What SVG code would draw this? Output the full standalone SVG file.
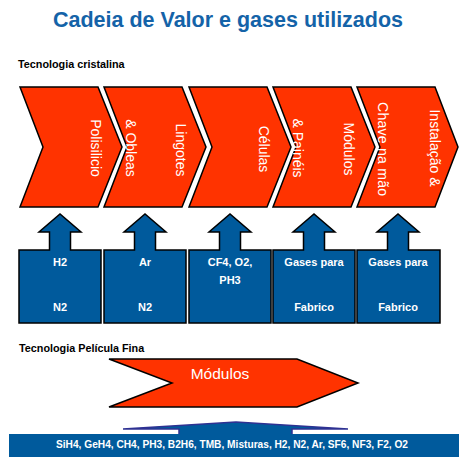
<svg xmlns="http://www.w3.org/2000/svg" width="459" height="457" viewBox="0 0 459 457">
<style>
.chev{fill:#FF3300;stroke:#000;stroke-width:1.5;stroke-linejoin:miter}
.ct{font-family:"Liberation Sans",Arial,sans-serif;font-size:14px;fill:#fff;text-anchor:middle;dominant-baseline:central}
.gas{fill:#005A9C;stroke:#000;stroke-width:1.5}
.gt{font-family:"Liberation Sans",Arial,sans-serif;font-size:11px;font-weight:bold;fill:#fff;text-anchor:middle;dominant-baseline:central}
.sec{font-family:"Liberation Sans",Arial,sans-serif;font-size:10.8px;font-weight:bold;fill:#000}
</style>
<rect width="459" height="457" fill="#fff"/>
<text x="228" y="27" font-family="Liberation Sans,Arial,sans-serif" font-size="21.5" font-weight="bold" fill="#1463A8" text-anchor="middle">Cadeia de Valor e gases utilizados</text>
<text class="sec" x="18" y="68">Tecnologia cristalina</text>

<g id="c1"><path class="chev" d="M20,87 H98 L122,147 L98,207 H20 L43,147 Z"/>
<text class="ct" transform="translate(96,148) rotate(90)">Polisilicio</text></g>
<g id="c2"><path class="chev" d="M104,87 H182 L206,147 L182,207 H104 L127,147 Z"/>
<text class="ct" transform="translate(181,150) rotate(90)">Lingotes</text>
<text class="ct" transform="translate(131,148) rotate(90)">&amp; Obleas</text></g>
<g id="c3"><path class="chev" d="M189,87 H267 L291,147 L267,207 H189 L212,147 Z"/>
<text class="ct" transform="translate(264,149) rotate(90)">Células</text></g>
<g id="c4"><path class="chev" d="M273,87 H351 L375,147 L351,207 H273 L296,147 Z"/>
<text class="ct" transform="translate(349,149) rotate(90)">Módulos</text>
<text class="ct" transform="translate(298,148) rotate(90)">&amp; Painéis</text></g>
<g id="c5"><path class="chev" d="M357,87 H435 L458,147 L435,207 H357 L380,147 Z"/>
<text class="ct" transform="translate(435,148) rotate(90)">Instalação &amp;</text>
<text class="ct" transform="translate(383,149) rotate(90)" textLength="94" lengthAdjust="spacing">Chave na mão</text></g>

<g id="g1"><path class="gas" d="M19,250 H49.5 V232 H39 L60,214 L81,232 H70.5 V250 H101 V323 H19 Z"/>
<text class="gt" x="60" y="262">H2</text><text class="gt" x="60" y="307">N2</text></g>
<g id="g2"><path class="gas" d="M104,250 H134.5 V232 H124 L145,214 L166,232 H155.5 V250 H186 V323 H104 Z"/>
<text class="gt" x="145" y="262">Ar</text><text class="gt" x="145" y="307">N2</text></g>
<g id="g3"><path class="gas" d="M189,250 H219.5 V232 H209 L230,214 L251,232 H240.5 V250 H271 V323 H189 Z"/>
<text class="gt" x="230" y="262">CF4, O2,</text><text class="gt" x="230" y="280">PH3</text></g>
<g id="g4"><path class="gas" d="M273,250 H303.5 V232 H293 L314,214 L335,232 H324.5 V250 H355 V323 H273 Z"/>
<text class="gt" x="314" y="262">Gases para</text><text class="gt" x="314" y="307">Fabrico</text></g>
<g id="g5"><path class="gas" d="M357,250 H387.5 V232 H377 L398,214 L419,232 H408.5 V250 H440 V323 H357 Z"/>
<text class="gt" x="398" y="262">Gases para</text><text class="gt" x="398" y="307">Fabrico</text></g>

<text class="sec" x="19" y="352">Tecnologia Película Fina</text>
<g id="m"><path class="chev" d="M109,359 H297 L358,383 L297,407 H109 L172,383 Z"/>
<text x="220" y="379" font-family="Liberation Sans,Arial,sans-serif" font-size="15.5" fill="#fff" text-anchor="middle">Módulos</text></g>

<g id="bar">
<path d="M123,429 L236,422 L348,429 H292 V435 H179 V429 Z" fill="#005A9C" stroke="#2E3192" stroke-width="1.5"/>
<rect x="9" y="434" width="450" height="23" fill="#005A9C"/>
<text x="232" y="448" font-family="Liberation Sans,Arial,sans-serif" font-size="10.5" font-weight="bold" fill="#fff" text-anchor="middle" textLength="352" lengthAdjust="spacingAndGlyphs">SiH4, GeH4, CH4, PH3, B2H6, TMB, Misturas, H2, N2, Ar, SF6, NF3, F2, O2</text>
</g>
</svg>
